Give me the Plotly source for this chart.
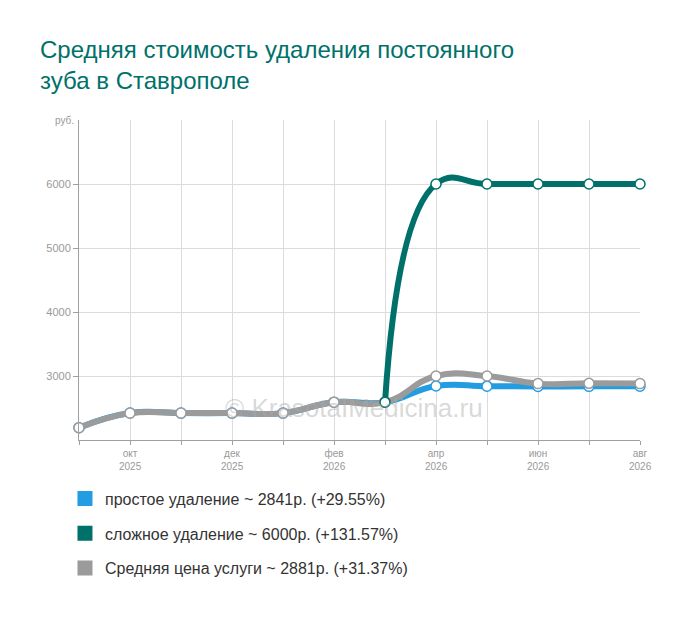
"""Average cost of permanent tooth extraction in Stavropol, monthly line chart."""

import plotly.graph_objects as go

MONTHS = [
    "сен 2025", "окт 2025", "ноя 2025", "дек 2025", "янв 2026", "фев 2026",
    "мар 2026", "апр 2026", "май 2026", "июн 2026", "июл 2026", "авг 2026",
]
TICK_MONTHS = ["", "окт", "", "дек", "", "фев", "", "апр", "", "июн", "", "авг"]
TICK_YEARS = ["", "2025", "", "2025", "", "2026", "", "2026", "", "2026", "", "2026"]

SIMPLE = [2193, 2422, 2420, 2420, 2420, 2591, 2591, 2844, 2841, 2836, 2838, 2841]
COMPLEX_MONTHS = MONTHS[6:]
COMPLEX = [2591, 6000, 6000, 6000, 6000, 6000]
AVERAGE = [2193, 2420, 2420, 2420, 2420, 2591, 2591, 3000, 3000, 2881, 2885, 2881]

NAMES = [
    "простое удаление ~ 2841р. (+29.55%)",
    "сложное удаление ~ 6000р. (+131.57%)",
    "Средняя цена услуги ~ 2881р. (+31.37%)",
]
BLUE = "#229de2"
TEAL = "#00716a"
GREY = "#9b9b9b"
AXIS = "#a0a0a0"
GRID = "#dcdcdc"
TICK = "#999999"
FONT = "Arial, Liberation Sans, sans-serif"

fig = go.Figure()


def add_series(x, y, color):
    fig.add_scatter(
        x=x,
        y=y,
        mode="lines+markers",
        line={"color": color, "width": 6, "shape": "spline", "smoothing": 1.3},
        marker={"size": 10, "color": "white", "line": {"color": color, "width": 1.5}},
        cliponaxis=False,
        showlegend=False,
        hoverinfo="x+y",
    )


add_series(MONTHS, SIMPLE, BLUE)
add_series(MONTHS, AVERAGE, GREY)
add_series(COMPLEX_MONTHS, COMPLEX, TEAL)

# legend-only entries with square swatches
for i, (name, color) in enumerate(zip(NAMES, [BLUE, TEAL, GREY])):
    fig.add_scatter(
        x=[None],
        y=[None],
        mode="markers",
        marker={"symbol": "square", "size": 15, "color": color},
        name=name,
        legendgroup=f"g{i}",
    )

# year line under the month tick labels (tighter than a <br> label)
for month, year in zip(MONTHS, TICK_YEARS):
    if year:
        fig.add_annotation(
            text=year, x=month, xref="x", y=0, yref="paper",
            yanchor="top", yshift=-19, showarrow=False,
            font={"family": FONT, "size": 10, "color": TICK},
        )

fig.add_annotation(
    text="© KrasotaIMedicina.ru",
    xref="paper", yref="paper", x=0.49, y=0.047,
    showarrow=False,
    font={"family": FONT, "size": 26, "color": "rgba(170,170,170,0.45)"},
)
fig.add_annotation(
    text="руб.",
    xref="paper", yref="paper", x=0, y=1,
    xanchor="right", yanchor="middle", xshift=-3,
    showarrow=False,
    font={"family": FONT, "size": 10, "color": TICK},
)

fig.update_layout(
    width=700,
    height=617,
    plot_bgcolor="white",
    paper_bgcolor="white",
    margin={"l": 71, "r": 68, "t": 112, "b": 185},
    font={"family": FONT, "color": "#333333"},
    title={
        "text": "Средняя стоимость удаления постоянного<br>зуба в Ставрополе",
        "x": 32 / 700,
        "xanchor": "left",
        "xref": "container",
        "y": 1 - 50 / 617,
        "yanchor": "top",
        "font": {"family": FONT, "size": 24, "color": TEAL},
    },
    xaxis={
        "type": "category",
        "categoryorder": "array",
        "categoryarray": MONTHS,
        "range": [0, len(MONTHS) - 1],
        "tickvals": MONTHS,
        "ticktext": TICK_MONTHS,
        "showgrid": True,
        "gridcolor": GRID,
        "showline": True,
        "linecolor": AXIS,
        "ticks": "outside",
        "ticklen": 4,
        "tickcolor": AXIS,
        "tickfont": {"size": 10, "color": TICK},
        "zeroline": False,
    },
    yaxis={
        "range": [2000, 7000],
        "tickvals": [3000, 4000, 5000, 6000],
        "showgrid": True,
        "gridcolor": GRID,
        "showline": True,
        "linecolor": AXIS,
        "ticks": "outside",
        "ticklen": 5,
        "tickcolor": AXIS,
        "tickfont": {"size": 11, "color": TICK},
        "zeroline": False,
    },
    legend={
        "x": -0.025,
        "y": -0.13,
        "xanchor": "left",
        "yanchor": "top",
        "font": {"family": FONT, "size": 16, "color": "#333333"},
        "tracegroupgap": 11,
        "bgcolor": "rgba(0,0,0,0)",
    },
)

fig.write_html("out.html")
